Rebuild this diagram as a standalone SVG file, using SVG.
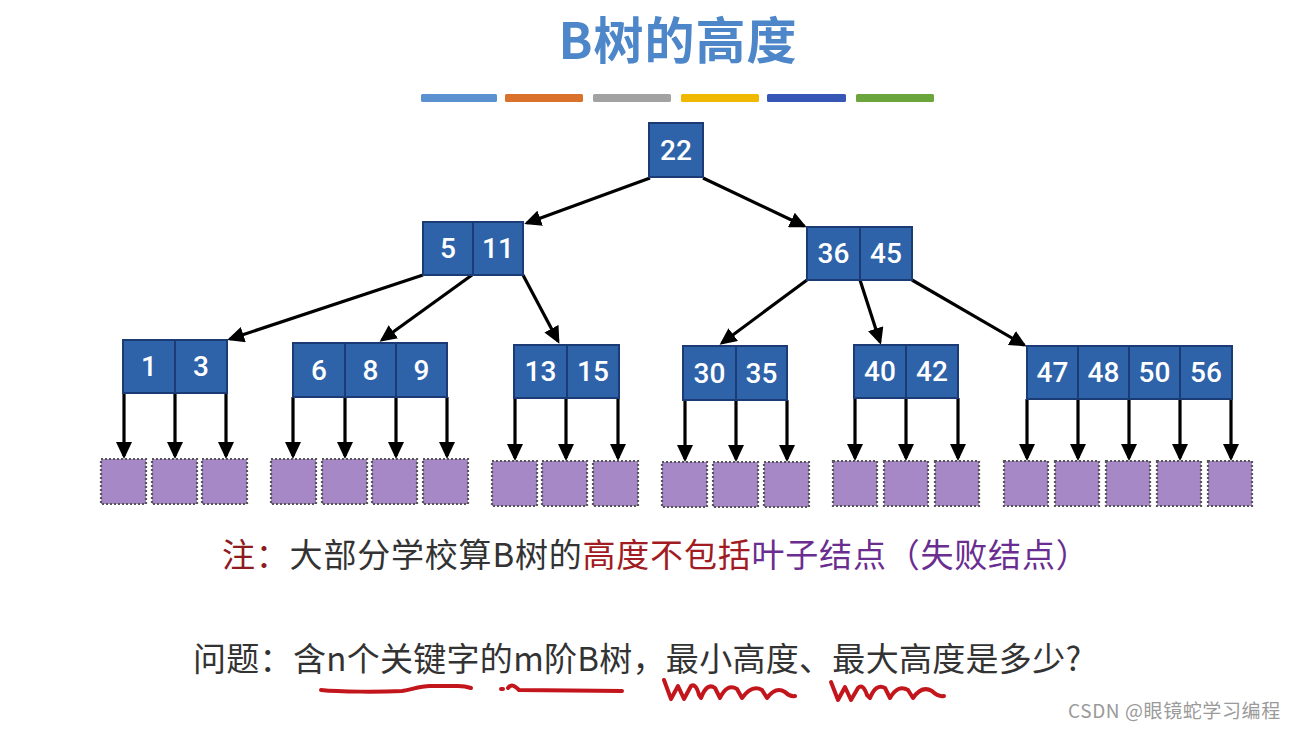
<svg xmlns="http://www.w3.org/2000/svg" width="1295" height="729" viewBox="0 0 1295 729">
<style>
.nd rect{fill:#2e63aa;stroke:#1b3b75;stroke-width:2}
.nd line{stroke:#1b3b75;stroke-width:2}
.nd text{fill:#fff;font-family:Roboto,"Liberation Sans",sans-serif;font-weight:500;font-size:28px;text-anchor:middle}
.lf rect{fill:#a688c6;stroke:#555;stroke-width:2.2;stroke-dasharray:2 2}
.cn line{stroke:#000;stroke-width:3.2;marker-end:url(#ah)}
.ul path{fill:none;stroke:#c3151c;stroke-width:4;stroke-linecap:round;stroke-linejoin:round}
.cjk{font-family:"Noto Sans CJK SC","Liberation Sans",sans-serif}
</style>
<defs>
<marker id="ah" viewBox="0 0 17 16" refX="14" refY="8" markerWidth="17" markerHeight="16" markerUnits="userSpaceOnUse" orient="auto">
<path d="M0,0 L17,8 L0,16 Z" fill="#000"/>
</marker>
</defs>
<rect width="1295" height="729" fill="#fff"/>
<text x="678" y="59" class="cjk" font-size="50" font-weight="bold" letter-spacing="1" fill="#4d87c9" text-anchor="middle">B树的高度</text>
<g id="bars">
<rect x="421" y="94" width="76" height="8" rx="1.5" fill="#5b90d1"/>
<rect x="505" y="94" width="78" height="8" rx="1.5" fill="#da722b"/>
<rect x="593" y="94" width="78" height="8" rx="1.5" fill="#a2a2a2"/>
<rect x="681" y="94" width="78" height="8" rx="1.5" fill="#f0b900"/>
<rect x="767" y="94" width="79" height="8" rx="1.5" fill="#3757b6"/>
<rect x="856" y="94" width="78" height="8" rx="1.5" fill="#6ba63d"/>
</g>
<g id="connectors" class="cn">
<line x1="650" y1="178" x2="527" y2="223"/>
<line x1="703" y1="178" x2="804" y2="226"/>
<line x1="423" y1="275" x2="230" y2="339"/>
<line x1="472" y1="275" x2="382" y2="340"/>
<line x1="523" y1="275" x2="558" y2="341"/>
<line x1="807" y1="280" x2="722" y2="343"/>
<line x1="860" y1="280" x2="880" y2="342"/>
<line x1="912" y1="280" x2="1024" y2="345"/>
<line x1="124" y1="393" x2="124" y2="456"/>
<line x1="175" y1="393" x2="175" y2="456"/>
<line x1="226" y1="393" x2="226" y2="456"/>
<line x1="293" y1="397" x2="293" y2="456"/>
<line x1="345" y1="397" x2="345" y2="456"/>
<line x1="396" y1="397" x2="396" y2="456"/>
<line x1="447" y1="397" x2="447" y2="456"/>
<line x1="515" y1="398" x2="515" y2="458"/>
<line x1="566" y1="398" x2="566" y2="458"/>
<line x1="618" y1="398" x2="618" y2="458"/>
<line x1="685" y1="400" x2="685" y2="459"/>
<line x1="736" y1="400" x2="736" y2="459"/>
<line x1="787" y1="400" x2="787" y2="459"/>
<line x1="855" y1="398" x2="855" y2="458"/>
<line x1="906" y1="398" x2="906" y2="458"/>
<line x1="958" y1="398" x2="958" y2="458"/>
<line x1="1027" y1="399" x2="1027" y2="458"/>
<line x1="1078" y1="399" x2="1078" y2="458"/>
<line x1="1129" y1="399" x2="1129" y2="458"/>
<line x1="1180" y1="399" x2="1180" y2="458"/>
<line x1="1231" y1="399" x2="1231" y2="458"/>
</g>
<g id="root" class="nd"><rect x="649" y="123" width="54" height="54"/><text x="676" y="160">22</text></g>
<g id="n5_11" class="nd"><rect x="423" y="222" width="100" height="53"/><line x1="473" y1="222" x2="473" y2="275"/><text x="448" y="258">5</text><text x="498" y="258">11</text></g>
<g id="n36_45" class="nd"><rect x="807" y="227" width="105" height="53"/><line x1="860" y1="227" x2="860" y2="280"/><text x="833.5" y="263">36</text><text x="886" y="263">45</text></g>
<g id="n1_3" class="nd"><rect x="123" y="340" width="104" height="53"/><line x1="175" y1="340" x2="175" y2="393"/><text x="149" y="376">1</text><text x="201" y="376">3</text></g>
<g id="n6_8_9" class="nd"><rect x="293" y="343" width="154" height="54"/><line x1="345" y1="343" x2="345" y2="397"/><line x1="396" y1="343" x2="396" y2="397"/><text x="319" y="380">6</text><text x="370.5" y="380">8</text><text x="421.5" y="380">9</text></g>
<g id="n13_15" class="nd"><rect x="514" y="345" width="105" height="53"/><line x1="567" y1="345" x2="567" y2="398"/><text x="540.5" y="381">13</text><text x="593" y="381">15</text></g>
<g id="n30_35" class="nd"><rect x="683" y="346" width="104" height="54"/><line x1="736" y1="346" x2="736" y2="400"/><text x="709.5" y="383">30</text><text x="761.5" y="383">35</text></g>
<g id="n40_42" class="nd"><rect x="854" y="345" width="104" height="53"/><line x1="906" y1="345" x2="906" y2="398"/><text x="880" y="381">40</text><text x="932" y="381">42</text></g>
<g id="n47_56" class="nd"><rect x="1027" y="346" width="205" height="53"/><line x1="1078" y1="346" x2="1078" y2="399"/><line x1="1129" y1="346" x2="1129" y2="399"/><line x1="1180" y1="346" x2="1180" y2="399"/><text x="1052.5" y="382">47</text><text x="1103.5" y="382">48</text><text x="1154.5" y="382">50</text><text x="1206" y="382">56</text></g>
<g id="leaves" class="lf">
<rect x="101" y="459" width="45" height="45"/>
<rect x="152" y="459" width="45" height="45"/>
<rect x="202" y="459" width="45" height="45"/>
<rect x="271" y="459" width="45" height="45"/>
<rect x="322" y="459" width="45" height="45"/>
<rect x="372" y="459" width="45" height="45"/>
<rect x="423" y="459" width="45" height="45"/>
<rect x="492" y="461" width="45" height="45"/>
<rect x="542" y="461" width="45" height="45"/>
<rect x="593" y="461" width="45" height="45"/>
<rect x="662" y="462" width="45" height="45"/>
<rect x="713" y="462" width="45" height="45"/>
<rect x="764" y="462" width="45" height="45"/>
<rect x="833" y="461" width="44" height="45"/>
<rect x="884" y="461" width="44" height="45"/>
<rect x="935" y="461" width="44" height="45"/>
<rect x="1004" y="461" width="44" height="45"/>
<rect x="1055" y="461" width="44" height="45"/>
<rect x="1106" y="461" width="44" height="45"/>
<rect x="1157" y="461" width="44" height="45"/>
<rect x="1208" y="461" width="44" height="45"/>
</g>
<text x="222" y="567" class="cjk" font-size="33" letter-spacing="0.8"><tspan fill="#8e1b1f">注：</tspan><tspan fill="#333">大部分学校算B树的</tspan><tspan fill="#a11c22">高度不包括</tspan><tspan fill="#6a2d90">叶子结点（失败结点）</tspan></text>
<text x="193" y="671" class="cjk" font-size="33" letter-spacing="0.3" fill="#333">问题：含n个关键字的m阶B树，最小高度、最大高度是多少?</text>
<g id="underlines" class="ul">
<path d="M321,690 C340,692 380,692 402,691 C412,690 418,686 430,686 L458,686 C464,686 468,687 471,688"/>
<path d="M501,689 L503,689 M508,688 C511,684 514,685 519,690 L622,691"/>
<path d="M664,680 L671,699 L678,686 L684,699 L691,686 Q696,683 699,695 L701,698 Q707,682 715,688 L720,698 Q727,683 737,689 L742,698 Q752,684 762,690 L767,698 Q776,686 785,692 Q790,697 795,696"/>
<path d="M831,682 L838,700 L845,687 L851,700 L858,688 Q863,683 867,695 L870,698 Q876,683 885,688 L890,698 Q898,684 908,690 L913,698 Q922,685 932,691 Q938,697 944,696"/>
</g>
<text x="1068" y="718" class="cjk" font-size="19" letter-spacing="0.6" fill="#9a9a9a">CSDN @眼镜蛇学习编程</text>
</svg>
